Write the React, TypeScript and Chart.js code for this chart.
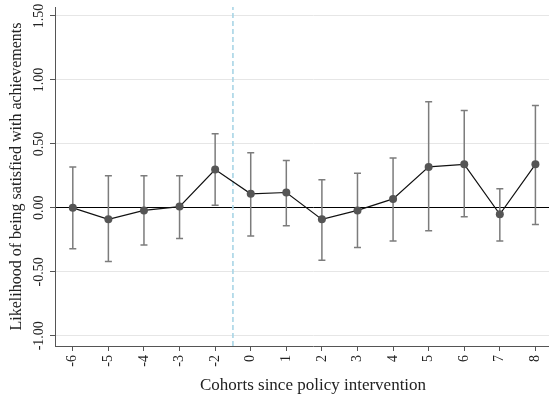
import React, { useEffect, useRef } from "react";
import { Chart, registerables } from "chart.js";

Chart.register(...registerables);

// ---- data ----
const cohortLabels = ["-6", "-5", "-4", "-3", "-2", "0", "1", "2", "3", "4", "5", "6", "7", "8"];
const estimates = [0.0, -0.09, -0.02, 0.01, 0.3, 0.11, 0.12, -0.09, -0.02, 0.07, 0.32, 0.34, -0.05, 0.34];
const upperCI = [0.32, 0.25, 0.25, 0.25, 0.58, 0.43, 0.37, 0.22, 0.27, 0.39, 0.83, 0.76, 0.15, 0.8];
const lowerCI = [-0.32, -0.42, -0.29, -0.24, 0.02, -0.22, -0.14, -0.41, -0.31, -0.26, -0.18, -0.07, -0.26, -0.13];
const yTicks = [-1.0, -0.5, 0.0, 0.5, 1.0, 1.5];
const yMin = -1.08;
const yMax = 1.57;
const xMin = -0.5;
const xMax = 14;
const policyBreak = 4.5; // between cohort -2 and cohort 0

const FONT = "'Liberation Serif', 'Times New Roman', serif";

const errorBarPlugin = {
  id: "errorBars",
  beforeDatasetsDraw(chart: any) {
    const { ctx, scales } = chart;
    const x = scales.x;
    const y = scales.y;
    ctx.save();
    ctx.strokeStyle = "#7c7c7c";
    ctx.lineWidth = 1.5;
    const cap = 3.5;
    cohortLabels.forEach((_, i) => {
      const px = x.getPixelForValue(i);
      const top = y.getPixelForValue(upperCI[i]);
      const bot = y.getPixelForValue(lowerCI[i]);
      ctx.beginPath();
      ctx.moveTo(px, top);
      ctx.lineTo(px, bot);
      ctx.moveTo(px - cap, top);
      ctx.lineTo(px + cap, top);
      ctx.moveTo(px - cap, bot);
      ctx.lineTo(px + cap, bot);
      ctx.stroke();
    });
    ctx.restore();
  },
};

export default function App() {
  const canvasRef = useRef<HTMLCanvasElement | null>(null);

  useEffect(() => {
    const canvas = canvasRef.current;
    if (!canvas) return;
    const chart = new Chart(canvas, {
      type: "line",
      data: {
        datasets: [
          {
            label: "policy",
            data: [
              { x: policyBreak, y: yMin },
              { x: policyBreak, y: yMax },
            ],
            borderColor: "#a8d5e6",
            borderWidth: 1.6,
            borderDash: [5, 3],
            pointRadius: 0,
            order: 3,
          },
          {
            label: "estimate",
            data: estimates.map((v, i) => ({ x: i, y: v })),
            borderColor: "#111111",
            borderWidth: 1.2,
            pointRadius: 4,
            pointBackgroundColor: "#555555",
            pointBorderColor: "#555555",
            pointBorderWidth: 0,
            tension: 0,
            order: 1,
          },
        ],
      },
      options: {
        animation: false,
        responsive: false,
        devicePixelRatio: 1,
        layout: { padding: { top: 7, right: 0, left: 0, bottom: 0 } },
        plugins: {
          legend: { display: false },
          tooltip: { enabled: false },
        },
        scales: {
          x: {
            type: "linear",
            min: xMin,
            max: xMax,
            afterBuildTicks: (s: any) => {
              s.ticks = cohortLabels.map((_, i) => ({ value: i }));
            },
            afterFit: (s: any) => {
              s.height = 54;
              s.paddingLeft = 0;
              s.paddingRight = 0;
            },
            ticks: {
              callback: (v: any) => cohortLabels[Math.round(Number(v))],
              minRotation: 90,
              maxRotation: 90,
              autoSkip: false,
              padding: 4,
              color: "#222",
              font: { family: FONT, size: 14 },
            },
            grid: {
              drawOnChartArea: false,
              drawTicks: true,
              tickLength: 5,
              tickColor: "#555",
            },
            border: { color: "#555", width: 1 },
            title: {
              display: true,
              text: "Cohorts since policy intervention",
              color: "#222",
              font: { family: FONT, size: 17 },
              padding: { top: 0, bottom: 4 },
            },
          },
          y: {
            type: "linear",
            min: yMin,
            max: yMax,
            afterBuildTicks: (s: any) => {
              s.ticks = yTicks.map((v) => ({ value: v }));
            },
            afterFit: (s: any) => {
              s.width = 55;
              s.paddingTop = 0;
              s.paddingBottom = 0;
            },
            ticks: {
              callback: (v: any) => Number(v).toFixed(2),
              minRotation: 90,
              maxRotation: 90,
              crossAlign: "center",
              padding: -4,
              color: "#222",
              font: { family: FONT, size: 14 },
            },
            grid: {
              color: (c: any) => (c.tick && c.tick.value === 0 ? "#000000" : "#e6e6e6"),
              lineWidth: 1,
              tickLength: 5,
              tickColor: "#555",
            },
            border: { color: "#555", width: 1 },
            title: {
              display: true,
              text: "Likelihood of being satisfied with achievements",
              color: "#222",
              font: { family: FONT, size: 16 },
              padding: { top: 7, bottom: 0 },
            },
          },
        },
      },
      plugins: [errorBarPlugin],
    } as any);
    return () => chart.destroy();
  }, []);

  return (
    <div
      style={{
        position: "fixed",
        left: 0,
        top: 0,
        width: 549,
        height: 400,
        overflow: "hidden",
        background: "#fff",
      }}
    >
      <canvas ref={canvasRef} width={575} height={400} style={{ width: 575, height: 400, display: "block" }} />
    </div>
  );
}
